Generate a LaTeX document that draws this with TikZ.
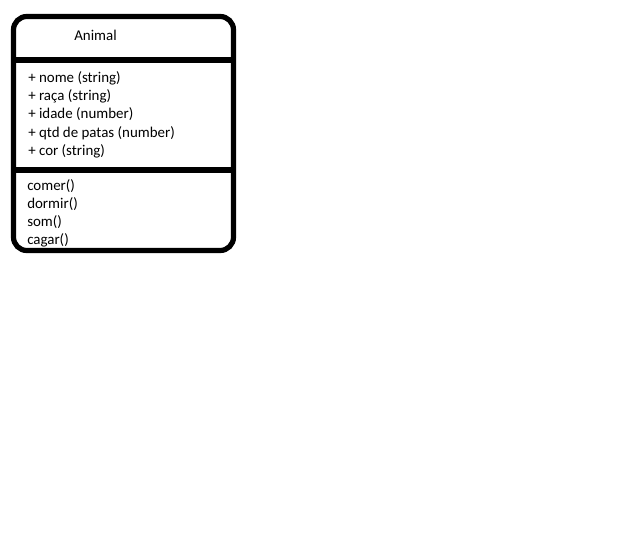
\documentclass[tikz,border=0pt]{standalone}
\usepackage{fontspec}
\setmainfont{Carlito}
\begin{document}
\begin{tikzpicture}[x=0.75pt,y=-0.75pt,
  frame/.style={line width=3.9pt,rounded corners=10pt},
  divider/.style={line width=3.9pt},
  member/.style={anchor=base west,inner sep=0pt,font=\fontsize{11.2pt}{13pt}\selectfont}]
\useasboundingbox (0,0) rectangle (630,546);
% class box
\draw[frame] (13.5,16.5) rectangle (233.5,250.5);
\coordinate (d1l) at (13.5,60);
\coordinate (d1r) at (233.5,60);
\coordinate (d2l) at (13.5,170);
\coordinate (d2r) at (233.5,170);
\draw[divider] (d1l) -- (d1r);
\draw[divider] (d2l) -- (d2r);
% class name
\node[member] (name) at (74,40) {Animal};
% attributes
\node[member] (a1) at (28,82.5) {+ nome (string)};
\node[member] (a2) at (28,100.5) {+ raça (string)};
\node[member] (a3) at (28,118.5) {+ idade (number)};
\node[member] (a4) at (28,137) {+ qtd de patas (number)};
\node[member] (a5) at (28,155) {+ cor (string)};
% methods
\node[member] (m1) at (27,190.5) {comer()};
\node[member] (m2) at (27,208.5) {dormir()};
\node[member] (m3) at (27,226.5) {som()};
\node[member] (m4) at (27,244.5) {cagar()};
\end{tikzpicture}
\end{document}
